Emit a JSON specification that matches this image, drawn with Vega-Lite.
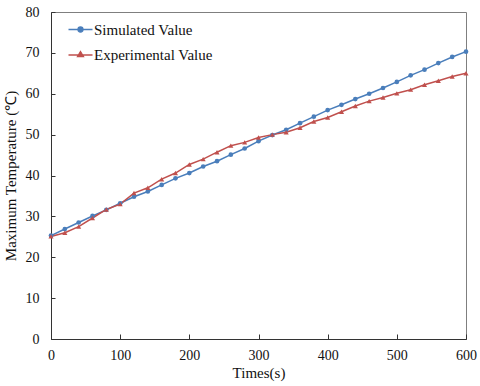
{
  "$schema": "https://vega.github.io/schema/vega-lite/v6.json",
  "autosize": {"type": "none"},
  "padding": {"left": 51, "top": 12, "right": 14, "bottom": 47},
  "width": 415,
  "height": 327,
  "background": "white",
  "config": {
    "font": "Liberation Serif",
    "view": {"stroke": "#7f7f7f", "strokeWidth": 1},
    "axis": {
      "grid": false,
      "domainColor": "#333333",
      "tickColor": "#333333",
      "labelFont": "Liberation Serif",
      "titleFont": "Liberation Serif",
      "labelFontSize": 14,
      "titleFontSize": 15,
      "labelColor": "#111111",
      "titleColor": "#111111",
      "titleFontWeight": "normal",
      "labelFlush": false,
      "labelOverlap": false
    }
  },
  "data": {
    "values": [
      {"t": 0, "s": "Simulated Value", "v": 25.3},
      {"t": 20, "s": "Simulated Value", "v": 26.9},
      {"t": 40, "s": "Simulated Value", "v": 28.5},
      {"t": 60, "s": "Simulated Value", "v": 30.1},
      {"t": 80, "s": "Simulated Value", "v": 31.6},
      {"t": 100, "s": "Simulated Value", "v": 33.2},
      {"t": 120, "s": "Simulated Value", "v": 34.8},
      {"t": 140, "s": "Simulated Value", "v": 36.1},
      {"t": 160, "s": "Simulated Value", "v": 37.7},
      {"t": 180, "s": "Simulated Value", "v": 39.3},
      {"t": 200, "s": "Simulated Value", "v": 40.6},
      {"t": 220, "s": "Simulated Value", "v": 42.2},
      {"t": 240, "s": "Simulated Value", "v": 43.5},
      {"t": 260, "s": "Simulated Value", "v": 45.1},
      {"t": 280, "s": "Simulated Value", "v": 46.6},
      {"t": 300, "s": "Simulated Value", "v": 48.4},
      {"t": 320, "s": "Simulated Value", "v": 49.9},
      {"t": 340, "s": "Simulated Value", "v": 51.2},
      {"t": 360, "s": "Simulated Value", "v": 52.8},
      {"t": 380, "s": "Simulated Value", "v": 54.4},
      {"t": 400, "s": "Simulated Value", "v": 56.0},
      {"t": 420, "s": "Simulated Value", "v": 57.3},
      {"t": 440, "s": "Simulated Value", "v": 58.7},
      {"t": 460, "s": "Simulated Value", "v": 60.0},
      {"t": 480, "s": "Simulated Value", "v": 61.4},
      {"t": 500, "s": "Simulated Value", "v": 62.9},
      {"t": 520, "s": "Simulated Value", "v": 64.5},
      {"t": 540, "s": "Simulated Value", "v": 65.9},
      {"t": 560, "s": "Simulated Value", "v": 67.5},
      {"t": 580, "s": "Simulated Value", "v": 69.0},
      {"t": 600, "s": "Simulated Value", "v": 70.3},
      {"t": 0, "s": "Experimental Value", "v": 25.1},
      {"t": 20, "s": "Experimental Value", "v": 26.0},
      {"t": 40, "s": "Experimental Value", "v": 27.5},
      {"t": 60, "s": "Experimental Value", "v": 29.6},
      {"t": 80, "s": "Experimental Value", "v": 31.7},
      {"t": 100, "s": "Experimental Value", "v": 33.0},
      {"t": 120, "s": "Experimental Value", "v": 35.7},
      {"t": 140, "s": "Experimental Value", "v": 37.0},
      {"t": 160, "s": "Experimental Value", "v": 39.1},
      {"t": 180, "s": "Experimental Value", "v": 40.6},
      {"t": 200, "s": "Experimental Value", "v": 42.7},
      {"t": 220, "s": "Experimental Value", "v": 44.0},
      {"t": 240, "s": "Experimental Value", "v": 45.7},
      {"t": 260, "s": "Experimental Value", "v": 47.3},
      {"t": 280, "s": "Experimental Value", "v": 48.1},
      {"t": 300, "s": "Experimental Value", "v": 49.3},
      {"t": 320, "s": "Experimental Value", "v": 50.0},
      {"t": 340, "s": "Experimental Value", "v": 50.6},
      {"t": 360, "s": "Experimental Value", "v": 51.7},
      {"t": 380, "s": "Experimental Value", "v": 53.2},
      {"t": 400, "s": "Experimental Value", "v": 54.2},
      {"t": 420, "s": "Experimental Value", "v": 55.6},
      {"t": 440, "s": "Experimental Value", "v": 57.0},
      {"t": 460, "s": "Experimental Value", "v": 58.2},
      {"t": 480, "s": "Experimental Value", "v": 59.1},
      {"t": 500, "s": "Experimental Value", "v": 60.1},
      {"t": 520, "s": "Experimental Value", "v": 61.0},
      {"t": 540, "s": "Experimental Value", "v": 62.2},
      {"t": 560, "s": "Experimental Value", "v": 63.2},
      {"t": 580, "s": "Experimental Value", "v": 64.2},
      {"t": 600, "s": "Experimental Value", "v": 65.0}
    ]
  },
  "encoding": {
    "x": {
      "field": "t", "type": "quantitative",
      "scale": {"domain": [0, 600], "nice": false},
      "axis": {"values": [0, 100, 200, 300, 400, 500, 600], "tickSize": -5, "labelPadding": 14, "title": "Times(s)", "titlePadding": 3}
    },
    "y": {
      "field": "v", "type": "quantitative",
      "scale": {"domain": [0, 80], "nice": false},
      "axis": {"values": [0, 10, 20, 30, 40, 50, 60, 70, 80], "tickSize": -4, "labelPadding": 16, "title": "Maximum Temperature (℃)", "titlePadding": 7}
    },
    "color": {
      "field": "s", "type": "nominal",
      "scale": {"domain": ["Simulated Value", "Experimental Value"], "range": ["#4a7ebb", "#c0504d"]},
      "legend": {
        "title": null,
        "orient": "none",
        "legendX": 22,
        "legendY": 10,
        "labelFontSize": 15,
        "labelFont": "Liberation Serif",
        "labelColor": "#111111",
        "labelOffset": 6,
        "rowPadding": 9,
        "symbolSize": 100,
        "encode": {
          "symbols": {
            "update": {
              "shape": {"signal": "datum.value == 'Simulated Value' ? 'M-2.4,0H2.4M0.5,0A0.5,0.5,0,1,1,-0.5,0A0.5,0.5,0,1,1,0.5,0' : 'M-2.4,0.1H2.4M0,-0.6L0.6,0.4L-0.6,0.4Z'"},
              "fill": {"signal": "datum.value == 'Simulated Value' ? '#4a7ebb' : '#c0504d'"},
              "stroke": {"signal": "datum.value == 'Simulated Value' ? '#4a7ebb' : '#c0504d'"},
              "strokeWidth": {"value": 1.3},
              "opacity": {"value": 1}
            }
          }
        }
      }
    }
  },
  "layer": [
    {
      "mark": {"type": "line", "strokeWidth": 1.5},
      "encoding": {}
    },
    {
      "transform": [{"filter": "datum.s == 'Simulated Value'"}],
      "mark": {"type": "point", "filled": true, "opacity": 1, "shape": "circle", "size": 22},
      "encoding": {}
    },
    {
      "transform": [{"filter": "datum.s == 'Experimental Value'"}],
      "mark": {"type": "point", "filled": true, "opacity": 1, "shape": "triangle-up", "size": 26},
      "encoding": {}
    }
  ]
}
